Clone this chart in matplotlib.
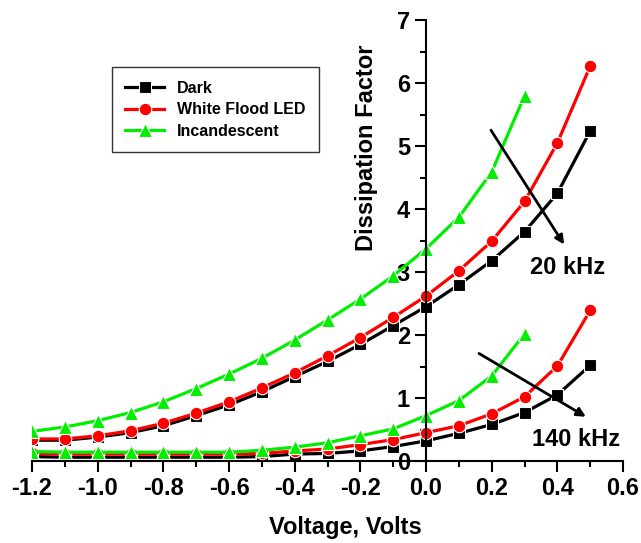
import matplotlib.pyplot as plt
from matplotlib.ticker import MultipleLocator

plt.rcParams['font.family'] = ['Liberation Sans', 'DejaVu Sans']
plt.rcParams['font.weight'] = 'bold'

# bias voltage (V)
volts = [-1.2, -1.1, -1.0, -0.9, -0.8, -0.7, -0.6, -0.5, -0.4, -0.3,
         -0.2, -0.1, 0.0, 0.1, 0.2, 0.3, 0.4, 0.5]
volts_inc = volts[:16]  # incandescent stops at 0.3 V

# 20 kHz
dark_20 = [0.33, 0.33, 0.38, 0.45, 0.56, 0.72, 0.89, 1.10, 1.34, 1.58,
           1.85, 2.15, 2.45, 2.80, 3.18, 3.64, 4.25, 5.24]
led_20 = [0.35, 0.35, 0.40, 0.48, 0.60, 0.76, 0.94, 1.16, 1.40, 1.67,
          1.96, 2.28, 2.62, 3.02, 3.49, 4.12, 5.05, 6.27]
inc_20 = [0.47, 0.54, 0.64, 0.77, 0.94, 1.15, 1.38, 1.63, 1.92, 2.24,
          2.57, 2.94, 3.37, 3.87, 4.59, 5.80]

# 140 kHz
dark_140 = [0.07, 0.06, 0.06, 0.06, 0.06, 0.06, 0.06, 0.07, 0.11, 0.12,
            0.16, 0.23, 0.32, 0.44, 0.58, 0.77, 1.05, 1.52]
led_140 = [0.12, 0.11, 0.11, 0.11, 0.11, 0.11, 0.11, 0.12, 0.16, 0.19,
           0.26, 0.34, 0.45, 0.56, 0.75, 1.02, 1.51, 2.39]
inc_140 = [0.15, 0.14, 0.14, 0.14, 0.14, 0.14, 0.14, 0.17, 0.22, 0.29,
           0.40, 0.51, 0.72, 0.96, 1.35, 2.02]

fig = plt.figure(figsize=(6.41, 5.43), dpi=100)
ax = fig.add_axes([0.05, 0.151, 0.922, 0.812])

style = dict(lw=2.3, mec='white', mew=0.8)
ax.plot(volts, dark_20, '-s', color='black', ms=8, label='Dark', **style)
ax.plot(volts, led_20, '-o', color='red', ms=9, label='White Flood LED', **style)
ax.plot(volts_inc, inc_20, '-^', color='#00ee00', ms=10.5, label='Incandescent', **style)
ax.plot(volts, dark_140, '-s', color='black', ms=8, **style)
ax.plot(volts, led_140, '-o', color='red', ms=9, **style)
ax.plot(volts_inc, inc_140, '-^', color='#00ee00', ms=10.5, **style)

ax.set_xlim(-1.2, 0.6)
ax.set_ylim(0, 7)
ax.spines['left'].set_position(('data', 0))
ax.spines[['top', 'right']].set_visible(False)
for s in ['left', 'bottom']:
    ax.spines[s].set_linewidth(1.5)

ax.xaxis.set_major_locator(MultipleLocator(0.2))
ax.xaxis.set_minor_locator(MultipleLocator(0.1))
ax.yaxis.set_major_locator(MultipleLocator(1))
ax.yaxis.set_minor_locator(MultipleLocator(0.5))
ax.tick_params(which='major', length=8, width=1.5, labelsize=17)
ax.tick_params(which='minor', length=4, width=1.5)
ax.set_xticks([-1.2, -1.0, -0.8, -0.6, -0.4, -0.2, 0.0, 0.2, 0.4, 0.6],
              ['-1.2', '-1.0', '-0.8', '-0.6', '-0.4', '-0.2', '0.0', '0.2', '0.4', '0.6'])

ax.set_xlabel('Voltage, Volts', fontsize=17, fontweight='bold')
ax.set_ylabel('Dissipation Factor', fontsize=17, fontweight='bold')
ax.xaxis.set_label_coords(0.53, -0.125)
ax.yaxis.set_label_coords(0.585, 0.71)

ax.annotate('', xy=(0.425, 3.40), xytext=(0.193, 5.29),
            arrowprops=dict(arrowstyle='-|>', color='black', lw=2, mutation_scale=13))
ax.annotate('', xy=(0.494, 0.68), xytext=(0.154, 1.73),
            arrowprops=dict(arrowstyle='-|>', color='black', lw=2, mutation_scale=13))
ax.text(0.43, 3.08, '20 kHz', fontsize=17, fontweight='bold', ha='center', va='center')
ax.text(0.457, 0.34, '140 kHz', fontsize=17, fontweight='bold', ha='center', va='center')

leg = ax.legend(loc='upper left', bbox_to_anchor=(0.135, 0.893), fontsize=11.5,
                frameon=True, fancybox=False, edgecolor='black', handlelength=2.4,
                borderpad=0.85, labelspacing=0.4, borderaxespad=0)
leg.get_frame().set_linewidth(1)
for t in leg.get_texts():
    t.set_fontweight('bold')

fig.savefig('out.png', dpi=100)
